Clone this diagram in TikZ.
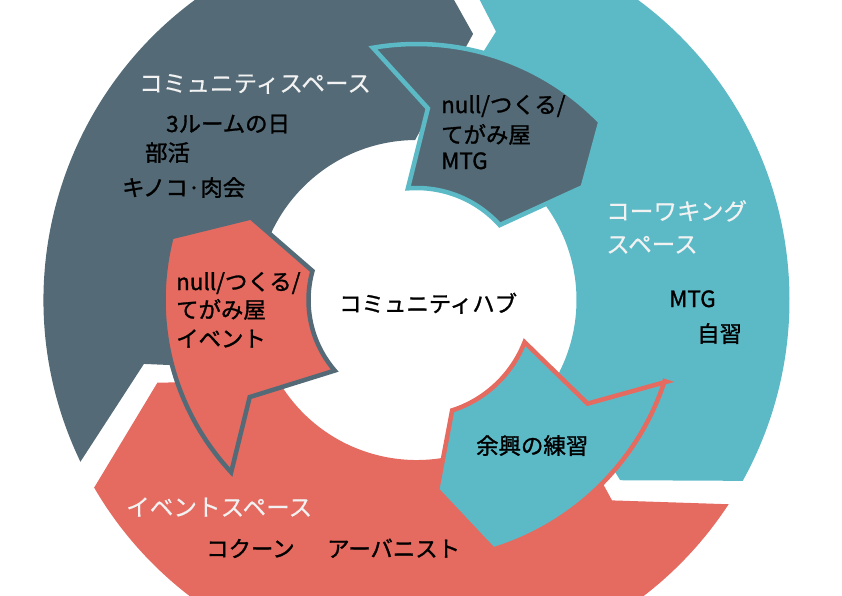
\documentclass[tikz,border=0pt]{standalone}
\usepackage{fontspec}
\setmainfont{Noto Sans CJK JP}
\newfontfamily\itemfont[FakeBold=1.3]{Noto Sans CJK JP}
\newfontfamily\headfont[FakeBold=0.4]{Noto Sans CJK JP}
\definecolor{ringslate}{HTML}{546B77}
\definecolor{ringteal}{HTML}{5CBAC7}
\definecolor{ringred}{HTML}{E56A60}
\definecolor{headwhite}{HTML}{F2F2F2}
\tikzset{
  headtxt/.style={anchor=base west, inner sep=0pt, text=headwhite, font=\headfont\fontsize{23.6}{28}\selectfont},
  itemtxt/.style={anchor=base west, inner sep=0pt, text=black, font=\itemfont\fontsize{22.4}{28}\selectfont},
  insetshape/.style={line width=4.5pt, line join=miter, miter limit=10},
}
% big ring segment: colour, tail angle, head angle
\newcommand\bigseg[3]{%
  \fill[#1] ([shift={(C)}]#2:373) arc[start angle=#2, end angle=#3, radius=373]
    -- ([shift={(C)}]#3+12.5:272) -- ([shift={(C)}]#3:160)
    arc[start angle=#3, end angle=#2, radius=160]
    -- ([shift={(C)}]#2+12.5:280) -- cycle;}
\begin{document}
\begin{tikzpicture}[x=1pt,y=-1pt]
\useasboundingbox (0,0) rectangle (842,595);
\clip (0,0) rectangle (842,595);
\coordinate (C) at (416.5,300);

% ring segments
\bigseg{ringred}{33.2}{149.8}
\bigseg{ringslate}{154.3}{269.5}
\bigseg{ringteal}{274}{389}

% inset arrows
\draw[insetshape, fill=ringred, draw=ringslate]
  ([shift={(C)}]137.1:253) -- ([shift={(C)}]149.8:193) -- ([shift={(C)}]139.2:108)
  arc[start angle=139.2, end angle=195.6, radius=108]
  -- ([shift={(C)}]206.5:185) -- ([shift={(C)}]194.4:253)
  arc[start angle=194.4, end angle=137.1, radius=253] -- cycle;
\draw[insetshape, fill=ringslate, draw=ringteal]
  ([shift={(C)}]260.2:256) -- ([shift={(C)}]273.4:192) -- ([shift={(C)}]265.6:112)
  arc[start angle=265.6, end angle=318, radius=112]
  -- ([shift={(C)}]325.8:201) -- ([shift={(C)}]315.9:256)
  arc[start angle=315.9, end angle=260.2, radius=256] -- cycle;
\draw[insetshape, fill=ringteal, draw=ringred]
  ([shift={(C)}]18.1:263) -- ([shift={(C)}]31.2:200) -- ([shift={(C)}]21.3:116)
  arc[start angle=21.3, end angle=72.1, radius=116]
  -- ([shift={(C)}]83.8:191) -- ([shift={(C)}]72.9:261)
  arc[start angle=72.9, end angle=18.1, radius=261] -- cycle;

% texts
\node[headtxt] (hcom) at (139,92) {コミュニティスペース};
\node[itemtxt] (c1) at (166,132) {3ルームの日};
\node[itemtxt] (c2) at (145,161) {部活};
\node[itemtxt] (c3) at (122,196) {キノコ·肉会};

\node[itemtxt] (d1) at (441,113) {null/つくる/};
\node[itemtxt] (d2) at (441,143) {てがみ屋};
\node[itemtxt] (d3) at (441,169) {MTG};

\node[headtxt] (hcw1) at (606,220) {コーワキング};
\node[headtxt] (hcw2) at (606,253) {スペース};
\node[itemtxt] (w1) at (669,307) {MTG};
\node[itemtxt] (w2) at (697,342) {自習};

\node[itemtxt] (hub) at (339,312) {コミュニティハブ};

\node[itemtxt] (r1) at (176,290) {null/つくる/};
\node[itemtxt] (r2) at (176,318) {てがみ屋};
\node[itemtxt] (r3) at (176,347) {イベント};

\node[itemtxt] (t1) at (476,454) {余興の練習};

\node[headtxt] (hev) at (126,516) {イベントスペース};
\node[itemtxt] (e1) at (206,557) {コクーン};
\node[itemtxt] (e2) at (327,557) {アーバニスト};
\end{tikzpicture}
\end{document}
